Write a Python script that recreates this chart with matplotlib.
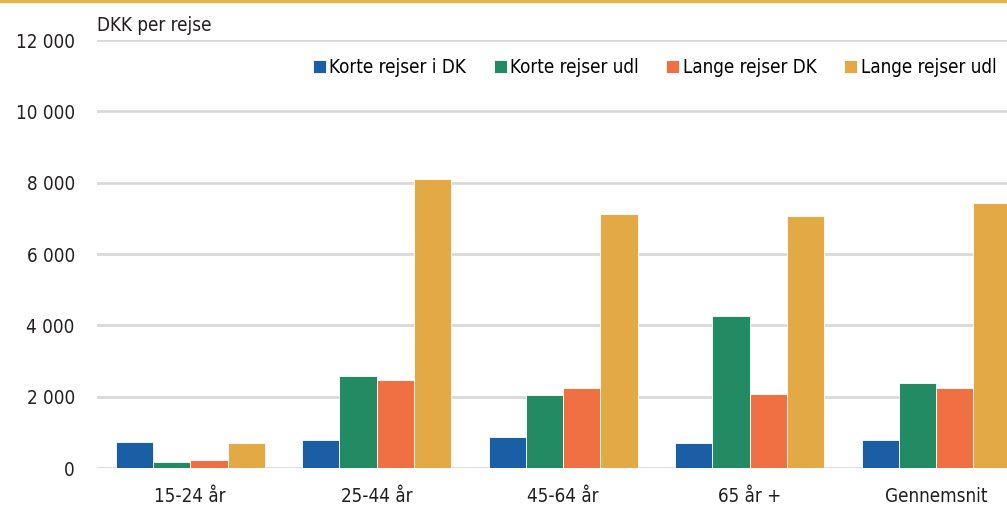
import numpy as np
import matplotlib

matplotlib.use("Agg")
import matplotlib.pyplot as plt
from matplotlib import font_manager
from matplotlib.lines import Line2D

categories = ["15-24 år", "25-44 år", "45-64 år", "65 år +", "Gennemsnit"]
series_names = ["Korte rejser i DK", "Korte rejser udl", "Lange rejser DK", "Lange rejser udl"]
korte_dk = [730, 790, 870, 700, 790]
korte_udl = [170, 2580, 2050, 4260, 2380]
lange_dk = [220, 2470, 2240, 2070, 2240]
lange_udl = [700, 8100, 7120, 7070, 7430]
yticks = [0, 2000, 4000, 6000, 8000, 10000, 12000]
ytick_labels = ["0", "2 000", "4 000", "6 000", "8 000", "10 000", "12 000"]

colors = ["#1a5fa5", "#238b63", "#f07044", "#e3a945"]
all_series = [korte_dk, korte_udl, lange_dk, lange_udl]

# prefer a narrow face if one is installed
fonts = font_manager.fontManager.ttflist
has_narrow = any(f.name == "Liberation Sans Narrow" for f in fonts)
has_condensed = any(f.name == "DejaVu Sans" and f.stretch == "condensed" for f in fonts)
if has_narrow:
    plt.rcParams["font.family"] = ["Liberation Sans Narrow", "DejaVu Sans"]
    fs = 14.5
elif has_condensed:
    plt.rcParams["font.family"] = ["DejaVu Sans"]
    plt.rcParams["font.stretch"] = "condensed"
    fs = 13.5
else:
    plt.rcParams["font.family"] = ["DejaVu Sans"]
    fs = 12.5

fig = plt.figure(figsize=(10.07, 5.27), dpi=100)
ax = fig.add_axes([97 / 1007, 1 - 468 / 527, 1 - 97 / 1007, (468 - 40) / 527])

x = np.arange(len(categories))
width = 0.2
for i, (vals, name, c) in enumerate(zip(all_series, series_names, colors)):
    ax.bar(x + (i - 1.5) * width, vals, width, color=c, label=name,
           edgecolor="white", linewidth=0.6, zorder=3)

ax.set_xlim(-0.5, 4.38)
ax.set_ylim(0, 12000)
ax.set_yticks(yticks)
ax.set_yticklabels(ytick_labels)
ax.set_xticks(x)
ax.set_xticklabels(categories)
ax.tick_params(axis="both", length=0, labelsize=fs, colors="#231f20")
ax.tick_params(axis="y", pad=16)
ax.tick_params(axis="x", pad=14)
ax.grid(axis="y", color="#d9d9d9", linewidth=2, zorder=0)
for s in ax.spines.values():
    s.set_visible(False)

ax.text(0, 1.012, "DKK per rejse", transform=ax.transAxes, fontsize=fs,
        color="#231f20", va="bottom", ha="left")

ax.legend(loc="upper right", bbox_to_anchor=(0.997, 0.975), ncol=4, frameon=False,
          fontsize=fs, handlelength=0.7, handleheight=0.7, handletextpad=0.2,
          columnspacing=1.45, borderaxespad=0)

fig.add_artist(Line2D([0, 1], [0.998, 0.998], color="#e3b54a", linewidth=2.5,
                      transform=fig.transFigure))

fig.savefig("out.png", dpi=100)
